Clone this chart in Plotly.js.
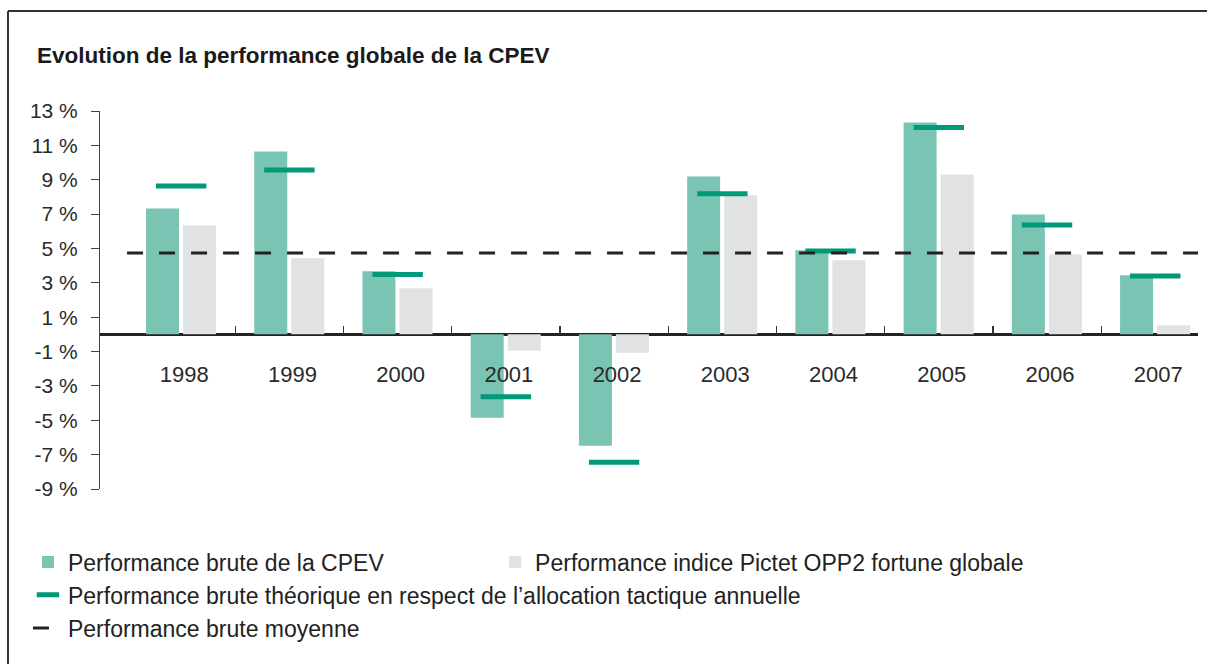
<!DOCTYPE html>
<html>
<head>
<meta charset="utf-8">
<script src="https://cdn.plot.ly/plotly-3.0.1.min.js"></script>
<style>
  html, body { margin: 0; padding: 0; background: #fff; }
  #chart { width: 1207px; height: 664px; }
</style>
</head>
<body>
<div id="chart"></div>
<script>
// ---- data ----
const years = [1998, 1999, 2000, 2001, 2002, 2003, 2004, 2005, 2006, 2007];
const yearLabels = ["1998", "1999", "2000", "2001", "2002", "2003", "2004", "2005", "2006", "2007"];
const cpev = [7.33, 10.64, 3.67, -4.85, -6.48, 9.19, 4.89, 12.33, 6.98, 3.44];
const pictet = [6.35, 4.43, 2.68, -0.96, -1.07, 8.09, 4.31, 9.31, 4.66, 0.53];
const theorique = [8.63, 9.56, 3.48, -3.63, -7.45, 8.19, 4.85, 12.04, 6.36, 3.40];
const moyenne = 4.74;
const yTickVals = [-9, -7, -5, -3, -1, 1, 3, 5, 7, 9, 11, 13];
const yTickText = ["-9 %", "-7 %", "-5 %", "-3 %", "-1 %", "1 %", "3 %", "5 %", "7 %", "9 %", "11 %", "13 %"];
const seriesNames = [
  "Performance brute de la CPEV",
  "Performance indice Pictet OPP2 fortune globale",
  "Performance brute théorique en respect de l’allocation tactique annuelle",
  "Performance brute moyenne"
];
const chartTitle = "Evolution de la performance globale de la CPEV";

// ---- layout helpers ----
const xRange = [years[0] - 0.75, years[years.length - 1] + 0.395];
const boundaries = years.slice(0, -1).map(v => v + 0.5);
const FONT = "Liberation Sans, Arial, sans-serif";

const traces = [
  {
    type: "bar", name: seriesNames[0], x: years, y: cpev,
    width: 0.305, offset: -0.325,
    marker: { color: "#7ac4b4" },
    legend: "legend", hoverinfo: "skip"
  },
  {
    type: "bar", name: seriesNames[1], x: years, y: pictet,
    width: 0.305, offset: 0.017,
    marker: { color: "#e1e2e3" },
    legend: "legend4", hoverinfo: "skip"
  },
  {
    type: "scatter", mode: "markers", name: seriesNames[2], x: years, y: theorique,
    marker: { symbol: "line-ew", size: 36, color: "#00997a", line: { width: 5, color: "#00997a" } },
    legend: "legend2", hoverinfo: "skip"
  },
  {
    type: "scatter", mode: "lines", name: seriesNames[3],
    x: [years[0] - 0.5, xRange[1]], y: [moyenne, moyenne],
    line: { color: "#222222", width: 3, dash: "16px,16px" },
    legend: "legend3", hoverinfo: "skip"
  }
];

const legendFont = { family: FONT, size: 23, color: "#222" };
const legX = -0.0656;

const layout = {
  width: 1207, height: 664,
  margin: { l: 100, r: 9, t: 111, b: 175, pad: 0 },
  paper_bgcolor: "#ffffff", plot_bgcolor: "#ffffff",
  barmode: "overlay",
  showlegend: true,
  title: {
    text: chartTitle,
    x: 37 / 1207, xanchor: "left", xref: "container",
    y: 1 - 55 / 664, yanchor: "middle", yref: "container",
    font: { family: FONT, size: 22.5, color: "#1a1a1a", weight: "bold" }
  },
  xaxis: {
    type: "linear", range: xRange,
    anchor: "free", position: 9 / 22,
    tickmode: "array", tickvals: years, ticktext: yearLabels,
    ticks: "", showgrid: false, zeroline: false, showline: false,
    ticklabelstandoff: 25, ticklabelshift: 3,
    tickfont: { family: FONT, size: 22, color: "#2a2a2a" },
    minor: { tickmode: "array", tickvals: boundaries, ticks: "inside", ticklen: 8, tickwidth: 1.2, tickcolor: "#333", showgrid: false },
    fixedrange: true
  },
  yaxis: {
    range: [-9, 13],
    tickmode: "array", tickvals: yTickVals, ticktext: yTickText,
    ticks: "outside", ticklen: 8, tickwidth: 1, tickcolor: "#444",
    ticklabelstandoff: 9,
    showline: true, linecolor: "#444", linewidth: 1,
    showgrid: false,
    zeroline: true, zerolinecolor: "#222", zerolinewidth: 2.5,
    tickfont: { family: FONT, size: 21, color: "#2a2a2a" },
    fixedrange: true
  },
  legend: {
    orientation: "h", x: legX, xanchor: "left", y: -0.193, yanchor: "middle",
    font: legendFont, bgcolor: "rgba(0,0,0,0)"
  },
  legend4: {
    orientation: "h", x: (535 - 40 - 100) / 1097.7, xanchor: "left", y: -0.193, yanchor: "middle",
    font: legendFont, bgcolor: "rgba(0,0,0,0)"
  },
  legend2: {
    orientation: "h", x: legX, xanchor: "left", y: -0.280, yanchor: "middle",
    font: legendFont, bgcolor: "rgba(0,0,0,0)"
  },
  legend3: {
    orientation: "h", x: legX, xanchor: "left", y: -0.368, yanchor: "middle",
    font: legendFont, bgcolor: "rgba(0,0,0,0)"
  },
  shapes: [
    { type: "line", xref: "paper", yref: "paper", x0: -0.0838, x1: -0.0838, y0: -0.6, y1: 1.2646,
      line: { color: "#333", width: 2 } },
    { type: "line", xref: "paper", yref: "paper", x0: -0.0838, x1: 1.1, y0: 1.2646, y1: 1.2646,
      line: { color: "#333", width: 2 } }
  ]
};

Plotly.newPlot("chart", traces, layout, { displayModeBar: false, staticPlot: true });
</script>
</body>
</html>
